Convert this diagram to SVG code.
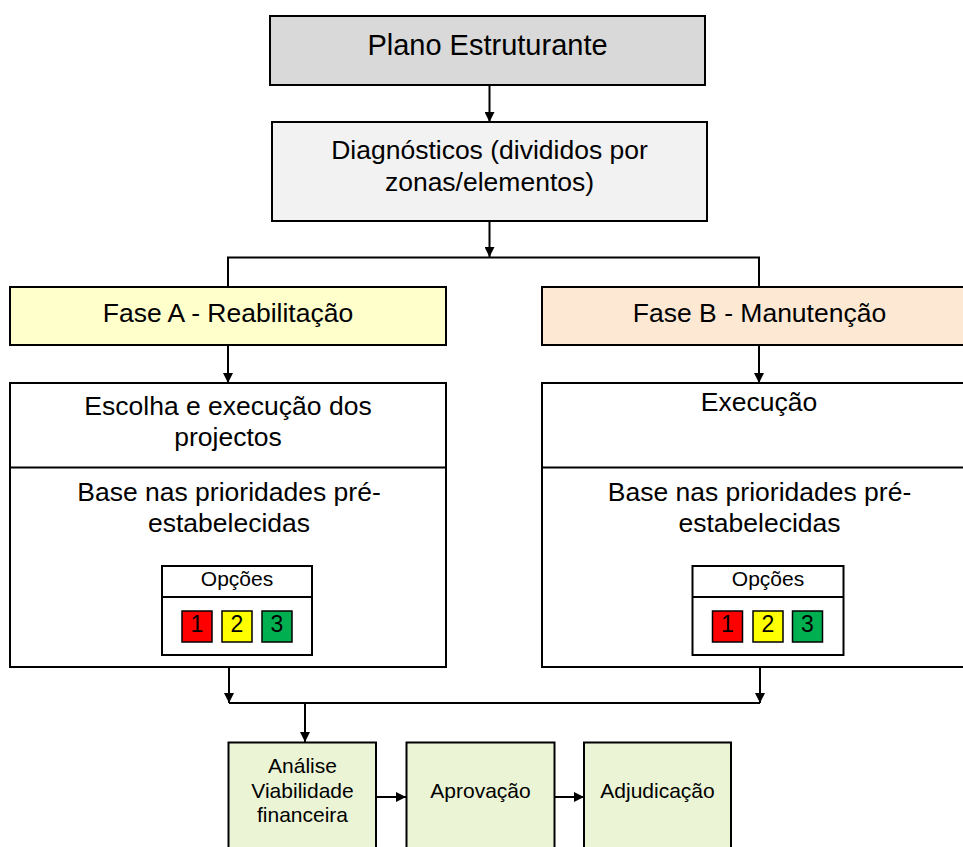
<svg xmlns="http://www.w3.org/2000/svg" width="963" height="847" viewBox="0 0 963 847">
<defs>
<style>
.box{stroke:#000;stroke-width:2}
.t{font-family:"Liberation Sans",Arial,sans-serif;fill:#000;text-anchor:middle}
.c{stroke:#000;stroke-width:2;fill:none}
.sq{stroke:#000;stroke-width:1.5}
</style>
<marker id="ah" markerUnits="userSpaceOnUse" markerWidth="10" markerHeight="10" refX="10" refY="5" orient="auto">
<path d="M0,0 L10,5 L0,10 z" fill="#000"/>
</marker>
</defs>
<rect width="963" height="847" fill="#fff"/>

<g id="connectors">
<line class="c" x1="489.5" y1="86" x2="489.5" y2="122" marker-end="url(#ah)"/>
<line class="c" x1="489.5" y1="221" x2="489.5" y2="257" marker-end="url(#ah)"/>
<polyline class="c" points="228,287 228,257.5 759,257.5 759,287"/>
<line class="c" x1="228" y1="345" x2="228" y2="383" marker-end="url(#ah)"/>
<line class="c" x1="759" y1="345" x2="759" y2="383" marker-end="url(#ah)"/>
<line class="c" x1="229" y1="667" x2="229" y2="703" marker-end="url(#ah)"/>
<line class="c" x1="760" y1="667" x2="760" y2="703" marker-end="url(#ah)"/>
<line class="c" x1="229" y1="703" x2="760" y2="703"/>
<line class="c" x1="305" y1="703" x2="305" y2="742" marker-end="url(#ah)"/>
<line class="c" x1="376" y1="797" x2="406" y2="797" marker-end="url(#ah)"/>
<line class="c" x1="555" y1="797" x2="584" y2="797" marker-end="url(#ah)"/>
</g>

<g id="plano">
<rect class="box" x="270" y="16" width="435" height="69" fill="#d9d9d9"/>
<text class="t" x="487.5" y="55" font-size="29">Plano Estruturante</text>
</g>

<g id="diagnosticos">
<rect class="box" x="272" y="122" width="435" height="99" fill="#f2f2f2"/>
<text class="t" x="489.5" y="158.5" font-size="26.5">Diagnósticos (divididos por</text>
<text class="t" x="489.5" y="191" font-size="26.5">zonas/elementos)</text>
</g>

<g id="faseA">
<rect class="box" x="10" y="287" width="436" height="58" fill="#ffffcc"/>
<text class="t" x="228" y="322" font-size="26.5">Fase A - Reabilitação</text>
</g>

<g id="faseB">
<rect class="box" x="542" y="287" width="440" height="58" fill="#fde9d3"/>
<text class="t" x="759.5" y="322" font-size="26.5">Fase B - Manutenção</text>
</g>

<g id="escolha">
<rect class="box" x="10" y="383" width="436" height="284" fill="#fff"/>
<line class="c" x1="10" y1="467.5" x2="446" y2="467.5"/>
<text class="t" x="228" y="415" font-size="26.5">Escolha e execução dos</text>
<text class="t" x="228" y="446" font-size="26.5">projectos</text>
<text class="t" x="229" y="500.5" font-size="26.5">Base nas prioridades pré-</text>
<text class="t" x="229" y="531.5" font-size="26.5">estabelecidas</text>
</g>

<g id="opcoesA">
<rect class="box" x="162" y="566" width="150" height="89" fill="#fff"/>
<line class="c" x1="162" y1="597" x2="312" y2="597"/>
<text class="t" x="237" y="586" font-size="21">Opções</text>
<rect class="sq" x="182" y="611" width="30" height="31" fill="#ff0000"/>
<rect class="sq" x="222" y="611" width="30" height="31" fill="#ffff00"/>
<rect class="sq" x="262" y="611" width="30" height="31" fill="#00b050"/>
<text class="t" x="197" y="632" font-size="23">1</text>
<text class="t" x="237" y="632" font-size="23">2</text>
<text class="t" x="277" y="632" font-size="23">3</text>
</g>

<g id="execucao">
<rect class="box" x="542" y="383" width="440" height="284" fill="#fff"/>
<line class="c" x1="542" y1="467.5" x2="982" y2="467.5"/>
<text class="t" x="759" y="411" font-size="26.5">Execução</text>
<text class="t" x="759.5" y="500.5" font-size="26.5">Base nas prioridades pré-</text>
<text class="t" x="759.5" y="531.5" font-size="26.5">estabelecidas</text>
</g>

<g id="opcoesB">
<rect class="box" x="692.5" y="566" width="151" height="89" fill="#fff"/>
<line class="c" x1="692.5" y1="597" x2="843.5" y2="597"/>
<text class="t" x="768" y="586" font-size="21">Opções</text>
<rect class="sq" x="712.5" y="611" width="30" height="31" fill="#ff0000"/>
<rect class="sq" x="753" y="611" width="30" height="31" fill="#ffff00"/>
<rect class="sq" x="792.5" y="611" width="30" height="31" fill="#00b050"/>
<text class="t" x="727.5" y="632" font-size="23">1</text>
<text class="t" x="768" y="632" font-size="23">2</text>
<text class="t" x="807.5" y="632" font-size="23">3</text>
</g>

<g id="analise">
<rect class="box" x="228.5" y="742.5" width="147.5" height="120" fill="#ebf5d5"/>
<text class="t" x="302.5" y="773" font-size="21">Análise</text>
<text class="t" x="302.5" y="798" font-size="21">Viabilidade</text>
<text class="t" x="302.5" y="822" font-size="21">financeira</text>
</g>

<g id="aprovacao">
<rect class="box" x="406.5" y="742.5" width="148" height="120" fill="#ebf5d5"/>
<text class="t" x="480.5" y="797.5" font-size="21">Aprovação</text>
</g>

<g id="adjudicacao">
<rect class="box" x="584" y="742.5" width="147" height="120" fill="#ebf5d5"/>
<text class="t" x="657.5" y="797.5" font-size="21">Adjudicação</text>
</g>
</svg>
